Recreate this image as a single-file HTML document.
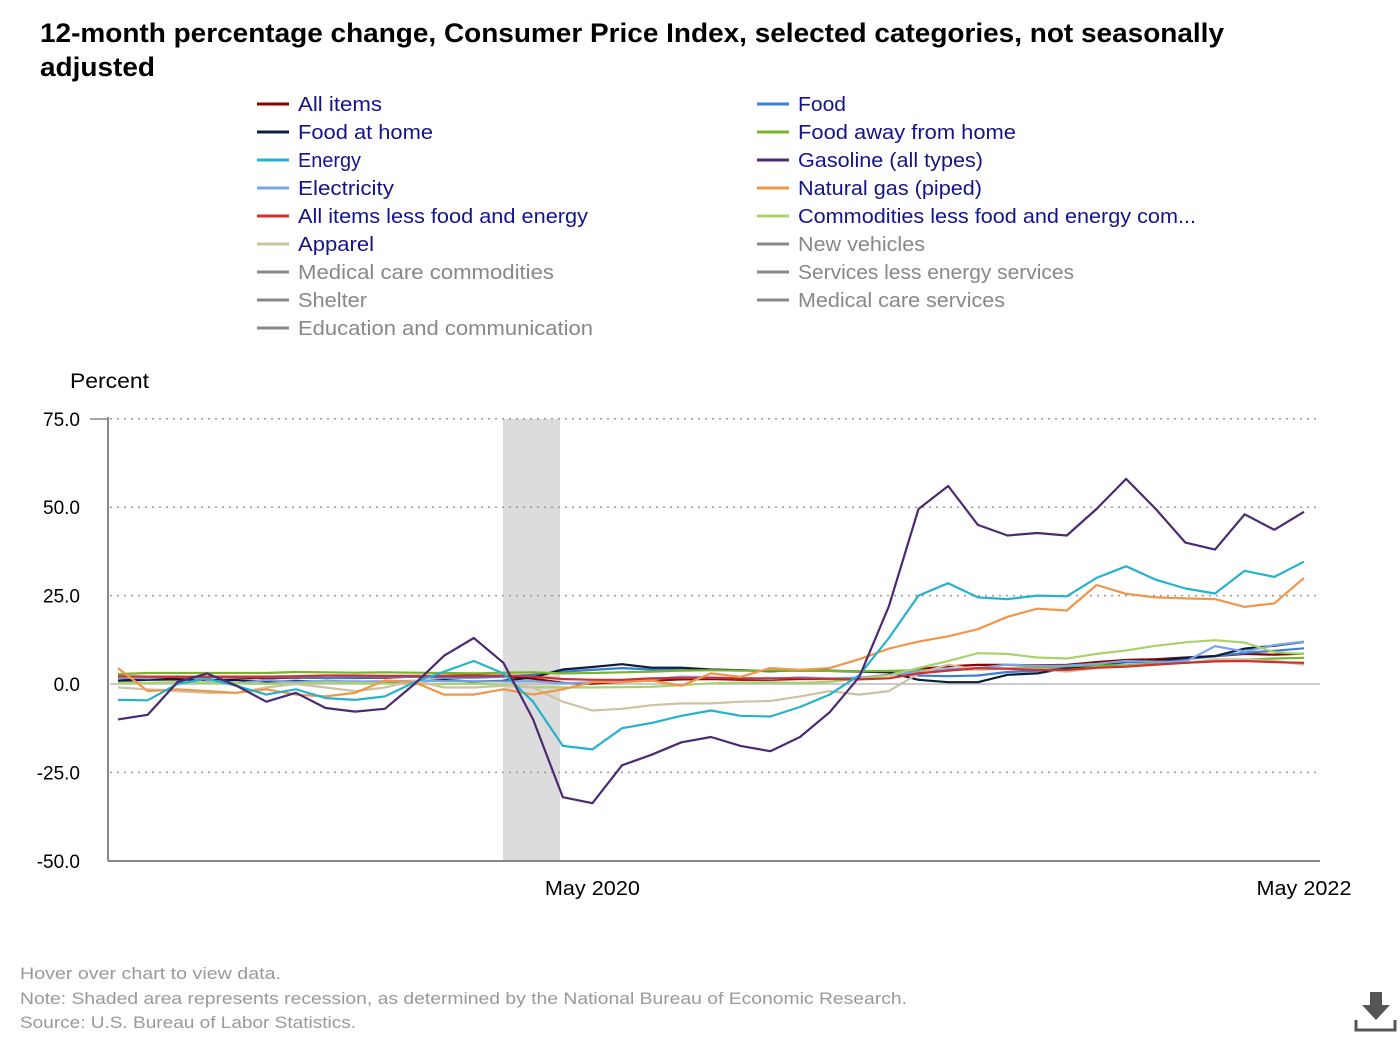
<!DOCTYPE html>
<html><head><meta charset="utf-8">
<style>
body{margin:0;background:#fff;width:1400px;height:1040px;overflow:hidden;font-family:"Liberation Sans",sans-serif;}
svg text{font-family:"Liberation Sans",sans-serif;}
</style></head>
<body>
<svg id="chart" width="1400" height="1040" viewBox="0 0 1400 1040">
<text x="40" y="42" font-size="27" font-weight="bold" fill="#000" textLength="1184" lengthAdjust="spacingAndGlyphs">12-month percentage change, Consumer Price Index, selected categories, not seasonally</text>
<text x="40" y="76" font-size="27" font-weight="bold" fill="#000" textLength="115" lengthAdjust="spacingAndGlyphs">adjusted</text>
<g id="legend"></g>
<text x="70" y="388" font-size="21" fill="#000" textLength="79" lengthAdjust="spacingAndGlyphs">Percent</text>
<rect x="503" y="419" width="57" height="442" fill="#dcdcdc"/>
<g id="grid"></g>
<g id="series"></g>
<line x1="108" y1="417" x2="108" y2="861" stroke="#888" stroke-width="2"/>
<line x1="108" y1="861" x2="1320" y2="861" stroke="#888" stroke-width="2"/>
<line x1="90" y1="419" x2="108" y2="419" stroke="#888" stroke-width="1.5"/>
<g id="xlabels"></g>
<text x="20" y="979" font-size="17" fill="#999" textLength="261" lengthAdjust="spacingAndGlyphs">Hover over chart to view data.</text>
<text x="20" y="1004" font-size="17" fill="#999" textLength="887" lengthAdjust="spacingAndGlyphs">Note: Shaded area represents recession, as determined by the National Bureau of Economic Research.</text>
<text x="20" y="1028" font-size="17" fill="#999" textLength="336" lengthAdjust="spacingAndGlyphs">Source: U.S. Bureau of Labor Statistics.</text>
<g>
<rect x="1370" y="992" width="12" height="14" fill="#555"/>
<polygon points="1362,1005 1390,1005 1376,1020" fill="#555"/>
<path d="M1356 1020 V1030 H1395 V1020" fill="none" stroke="#555" stroke-width="3"/>
</g>
</svg>
<script>
const NS='http://www.w3.org/2000/svg';
const yTicks=[75,50,25,0,-25,-50];
const yTickLabels=['75.0','50.0','25.0','0.0','-25.0','-50.0'];
const xLabelMonths=[16,40];
const xLabels=['May 2020','May 2022'];
const allItems=[1.6,1.5,1.9,2,1.8,1.6,1.8,1.7,1.7,1.8,2.1,2.3,2.5,2.3,1.5,0.3,0.1,0.6,1,1.3,1.4,1.2,1.2,1.4,1.4,1.7,2.6,4.2,5,5.4,5.4,5.3,5.4,6.2,6.8,7,7.5,7.9,8.5,8.3,8.6];
const food=[1.6,2,2.1,1.9,2,1.9,1.9,1.7,1.8,2,2,1.8,1.8,2.1,2.6,3.5,4,4.5,4.1,4.1,4,3.9,3.7,3.9,3.8,3.6,3.5,2.4,2.2,2.4,3.4,3.7,4.6,5.3,6.1,6.3,7,7.9,8.8,9.4,10.1];
const foodAtHome=[0.9,1.2,1.3,1.1,1.1,0.7,0.9,0.6,0.7,0.5,0.7,1.1,0.7,0.9,1.9,4.1,4.8,5.6,4.6,4.6,4.1,3.9,3.6,3.9,3.7,3.5,3.3,1.2,0.5,0.5,2.6,3,4.5,5.4,6.4,6.5,7.4,7.9,10,10.8,11.9];
const foodAway=[2.8,3.1,3.1,3.1,3.1,3.1,3.4,3.3,3.2,3.3,3.2,3.1,3,3.2,3.3,3,3.1,3.3,3.5,3.8,3.9,3.8,3.8,3.7,3.7,3.6,3.7,3.9,4,4.2,4.5,4.7,5,5.3,5.3,5.8,6,6.4,6.9,7.2,7.4];
const energy=[-4.5,-4.6,0,1.5,-0.5,-3,-1.5,-4,-4.5,-3.5,0.5,3.5,6.5,3,-5,-17.5,-18.5,-12.5,-11,-9,-7.5,-9,-9.2,-6.5,-3,2.5,13,25,28.5,24.5,24,25,24.8,30,33.3,29.5,27,25.6,32,30.3,34.6];
const gasoline=[-10,-8.7,0.5,3,-0.5,-5,-2.5,-6.8,-7.8,-7,0,8,13,6,-10,-32,-33.7,-23,-20,-16.5,-15,-17.5,-19,-15,-8,2,22,49.5,56,45,42,42.7,42,49.5,58,49.5,40,38,48,43.6,48.7];
const electricity=[1.9,1.6,2.2,1.2,0.2,1.1,0.6,0.9,0.7,0.8,0.9,0.8,0.8,0.7,0.8,0.2,0.5,0.9,1.3,2.1,1.9,1.6,1.4,1.9,1.6,1.8,2.5,3.5,4.2,4.5,5.5,5.1,5.2,5.7,6.5,6.3,6.3,10.7,9.2,11,12];
const naturalGas=[4.5,-2,-1.5,-2,-2.5,-1.5,-3,-3.5,-2.5,1,0.5,-3,-3,-1.5,-3,-1.5,0.5,0.5,1,-0.5,3,2,4.5,4,4.5,7,10,12,13.5,15.5,19,21.3,20.8,28,25.5,24.5,24.2,24,21.8,22.8,30];
const coreItems=[2.2,2.1,2,2.1,2.1,2.1,2.2,2.4,2.4,2.3,2.3,2.3,2.3,2.4,2.1,1.4,1.2,1.2,1.6,1.7,1.7,1.6,1.6,1.6,1.4,1.3,1.6,3,3.8,4.5,4.3,4,4,4.6,4.9,5.5,6,6.4,6.5,6.2,6];
const commodities=[0.3,0.3,0.5,0.3,0.2,0,0.1,0.5,0.3,0.2,0,0,0.1,-0.2,-0.9,-1,-1,-0.9,-0.8,-0.3,0.2,0.4,0.5,0.3,0.6,1.5,2.5,4.5,6.5,8.7,8.5,7.5,7.2,8.5,9.5,10.8,11.8,12.4,11.7,9,8.5];
const apparel=[-1,-1.5,-2,-2.5,-2.5,-1,0,-1,-2,-1,1,-1,-1,-0.5,-1,-5,-7.5,-7,-6,-5.5,-5.5,-5,-4.8,-3.5,-2,-3,-2,3,5.5,4,4.5,4.2,3.5,4.5,5,5.5,6,7,7,6.5,5.5];
const series=[
 ['all-items',allItems,'#8b0000'],['food',food,'#3a7fd5'],['food-at-home',foodAtHome,'#0d1e3a'],
 ['food-away-from-home',foodAway,'#79b42b'],['electricity',electricity,'#7aa6e8'],['commodities-less-food-energy',commodities,'#a8d26c'],
 ['apparel',apparel,'#cbc3a3'],['all-items-less-food-energy',coreItems,'#d32f2f'],['natural-gas',naturalGas,'#f0954a'],
 ['energy',energy,'#26b2cc'],['gasoline',gasoline,'#4b2a72']];
const x0=118,x1=1304,nMonths=40,y0=684,yScale=3.536;
const xs=i=>x0+(x1-x0)*i/nMonths;
const ys=v=>y0-v*yScale;
const svg=document.getElementById('chart');
function mk(tag,attrs,parent){const e=document.createElementNS(NS,tag);for(const k in attrs)e.setAttribute(k,attrs[k]);parent.appendChild(e);return e;}
const grid=document.getElementById('grid');
yTicks.forEach((t,i)=>{
 if(t!==-50){const l=mk('line',{x1:110,x2:1320,y1:ys(t),y2:ys(t),stroke:t===0?'#bbb':'#999','stroke-width':1.5,'stroke-dasharray':t===0?'':'2,5'},grid);
 
 }
 const tx=mk('text',{x:80,y:ys(t)+7,'text-anchor':'end','font-size':19,fill:'#000'},grid);
 tx.textContent=yTickLabels[i];
 
 
});
const xl=document.getElementById('xlabels');
xLabelMonths.forEach((m,i)=>{const tx=mk('text',{x:xs(m),y:895,'text-anchor':'middle','font-size':20,fill:'#000',textLength:95,lengthAdjust:'spacingAndGlyphs'},xl);
 tx.textContent=xLabels[i];
 
 });
const sg=document.getElementById('series');
series.forEach(s=>{const pts=s[1].map((v,i)=>xs(i).toFixed(1)+','+ys(v).toFixed(1)).join(' ');
 const p=mk('polyline',{points:pts,fill:'none',stroke:s[2],'stroke-width':2.2,'stroke-linejoin':'round'},sg);
 
 });
const legendItems=[
 ['All items','#8b0000',1,84],['Food','#3a7fd5',1,48],['Food at home','#0d1e3a',1,135],['Food away from home','#79b42b',1,218],
 ['Energy','#26b2cc',1,63],['Gasoline (all types)','#4b2a72',1,185],['Electricity','#7aa6e8',1,96],['Natural gas (piped)','#f0954a',1,184],
 ['All items less food and energy','#d32f2f',1,290],['Commodities less food and energy com...','#a8d26c',1,398],['Apparel','#cbc3a3',1,76],['New vehicles','#888',0,127],
 ['Medical care commodities','#888',0,256],['Services less energy services','#888',0,276],['Shelter','#888',0,69],['Medical care services','#888',0,207],
 ['Education and communication','#888',0,295]];
const lg=document.getElementById('legend');
legendItems.forEach((it,i)=>{const col=i%2,row=Math.floor(i/2);const lx=col?757:257,ly=104+row*28;
 const g=mk('g',{},lg);
 
 
 mk('line',{x1:lx,x2:lx+32,y1:ly,y2:ly,stroke:it[1],'stroke-width':3},g);
 const t=mk('text',{x:lx+41,y:ly+7,'font-size':20,fill:it[2]?'#14148a':'#888',textLength:it[3],lengthAdjust:'spacingAndGlyphs'},g);t.textContent=it[0];});
</script>
</body></html>
